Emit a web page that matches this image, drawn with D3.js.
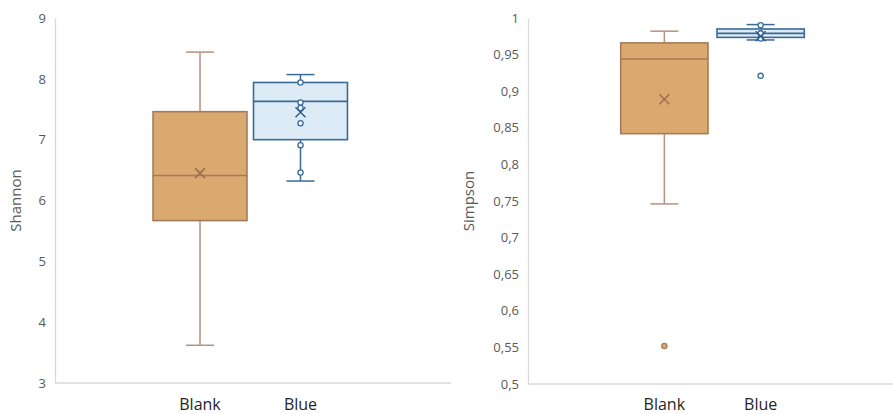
<!doctype html>
<html>
<head>
	<meta charset="utf-8">
	<script src="https://cdn.jsdelivr.net/npm/d3@7"></script>
	<style>
		body { margin: 0; background: #fff; }
		svg text { font-family: "Open Sans", "Noto Sans", sans-serif; }
		.tick text { fill: #595959; font-size: 13px; }
		.cat { fill: #262626; font-size: 16px; }
		.ytitle { fill: #595959; font-size: 15px; }
	</style>
</head>
<body>
<script>
	// categories
	var categories = ["Blank", "Blue"];

	// Shannon box stats
	var shannonMin = [3.62, 6.32];
	var shannonQ1 = [5.67, 7.00];
	var shannonMedian = [6.41, 7.63];
	var shannonQ3 = [7.46, 7.94];
	var shannonMax = [8.44, 8.07];
	var shannonMean = [6.45, 7.45];
	var shannonPoints = [[], [7.94, 7.61, 7.52, 7.27, 6.91, 6.46]];
	var shannonOutliers = [[], []];
	var shannonTicks = [3, 4, 5, 6, 7, 8, 9];

	// Simpson box stats
	var simpsonMin = [0.746, 0.970];
	var simpsonQ1 = [0.842, 0.9735];
	var simpsonMedian = [0.944, 0.979];
	var simpsonQ3 = [0.966, 0.985];
	var simpsonMax = [0.982, 0.991];
	var simpsonMean = [0.889, 0.975];
	var simpsonPoints = [[], [0.990, 0.979, 0.972]];
	var simpsonOutliers = [[0.552], [0.921]];
	var simpsonTicks = [0.5, 0.55, 0.6, 0.65, 0.7, 0.75, 0.8, 0.85, 0.9, 0.95, 1];

	var fills = ["#D9A96F", "#DDEBF7"];
	var strokes = ["#A67B5B", "#3A6A98"];
	var whiskerCol = ["#B5917F", "#3A6A98"];
	var meanCol = ["#9C6E52", "#2F5F8F"];

	var comma = d3.formatLocale({decimal: ",", thousands: ".", grouping: [3], currency: ["", ""]}).format("~g");

	var svg = d3.select("body").append("svg")
		.attr("width", 893)
		.attr("height", 414);

	function drawChart(cfg) {
		var g = svg.append("g");

		var yScale = d3.scaleLinear().domain(cfg.domain).range([cfg.bottom, cfg.top]);
		var xScale = d3.scaleBand().domain(categories).range(cfg.band).padding(cfg.pad);

		// bottom axis line
		g.append("line")
			.attr("x1", cfg.axisX).attr("x2", cfg.right)
			.attr("y1", cfg.bottom).attr("y2", cfg.bottom)
			.style("stroke", "#D9D9D9").style("stroke-width", 1.3);

		// y axis
		var yAxis = g.append("g")
			.attr("transform", "translate(" + cfg.axisX + ",0)")
			.call(d3.axisLeft(yScale).tickValues(cfg.ticks).tickSize(0).tickPadding(9).tickFormat(comma));
		yAxis.select(".domain").style("stroke", "#D9D9D9").style("stroke-width", 1.3);

		g.append("text")
			.attr("class", "ytitle")
			.attr("transform", "translate(" + cfg.titleX + "," + (cfg.top + cfg.bottom) / 2 + ") rotate(-90)")
			.attr("text-anchor", "middle")
			.attr("dy", "0.35em")
			.text(cfg.title);

		// category labels
		g.selectAll(".cat").data(categories).enter().append("text")
			.attr("class", "cat")
			.attr("x", d => xScale(d) + xScale.bandwidth() / 2)
			.attr("y", 410)
			.attr("text-anchor", "middle")
			.text(d => d);

		categories.forEach(function(c, i) {
			var x0 = xScale(c), bw = xScale.bandwidth(), cx = x0 + bw / 2;
			var cap = 14;

			// whiskers
			g.append("line").attr("x1", cx).attr("x2", cx)
				.attr("y1", yScale(cfg.q3[i])).attr("y2", yScale(cfg.max[i]))
				.style("stroke", whiskerCol[i]).style("stroke-width", 1.5);
			g.append("line").attr("x1", cx).attr("x2", cx)
				.attr("y1", yScale(cfg.q1[i])).attr("y2", yScale(cfg.min[i]))
				.style("stroke", whiskerCol[i]).style("stroke-width", 1.5);
			g.append("line").attr("x1", cx - cap).attr("x2", cx + cap)
				.attr("y1", yScale(cfg.max[i])).attr("y2", yScale(cfg.max[i]))
				.style("stroke", whiskerCol[i]).style("stroke-width", 1.5);
			g.append("line").attr("x1", cx - cap).attr("x2", cx + cap)
				.attr("y1", yScale(cfg.min[i])).attr("y2", yScale(cfg.min[i]))
				.style("stroke", whiskerCol[i]).style("stroke-width", 1.5);

			// box
			g.append("rect")
				.attr("x", x0).attr("width", bw)
				.attr("y", yScale(cfg.q3[i]))
				.attr("height", yScale(cfg.q1[i]) - yScale(cfg.q3[i]))
				.style("fill", fills[i]).style("stroke", strokes[i]).style("stroke-width", 1.6);

			// median
			g.append("line").attr("x1", x0).attr("x2", x0 + bw)
				.attr("y1", yScale(cfg.median[i])).attr("y2", yScale(cfg.median[i]))
				.style("stroke", strokes[i]).style("stroke-width", 1.6);

			// inner points
			g.selectAll(null).data(cfg.points[i]).enter().append("circle")
				.attr("cx", cx).attr("cy", d => yScale(d)).attr("r", 2.6)
				.style("fill", "#fff").style("stroke", strokes[i]).style("stroke-width", 1.3);

			// mean marker
			var my = yScale(cfg.mean[i]), s = 5;
			g.append("path")
				.attr("d", "M" + (cx - s) + "," + (my - s) + "L" + (cx + s) + "," + (my + s) +
					"M" + (cx + s) + "," + (my - s) + "L" + (cx - s) + "," + (my + s))
				.style("stroke", meanCol[i]).style("stroke-width", 1.5);

			// outliers
			g.selectAll(null).data(cfg.outliers[i]).enter().append("circle")
				.attr("cx", cx).attr("cy", d => yScale(d)).attr("r", 2.6)
				.style("fill", i == 0 ? fills[i] : "#fff").style("stroke", strokes[i]).style("stroke-width", 1.3);
		});
	}

	drawChart({
		domain: [3, 9], ticks: shannonTicks, top: 18, bottom: 383,
		axisX: 55, right: 451, band: [146.5, 354], pad: 0.065, titleX: 16, title: "Shannon",
		min: shannonMin, q1: shannonQ1, median: shannonMedian, q3: shannonQ3, max: shannonMax,
		mean: shannonMean, points: shannonPoints, outliers: shannonOutliers
	});

	drawChart({
		domain: [0.5, 1], ticks: simpsonTicks, top: 18, bottom: 384,
		axisX: 528, right: 893, band: [611.7, 813.3], pad: 0.0935, titleX: 469, title: "Simpson",
		min: simpsonMin, q1: simpsonQ1, median: simpsonMedian, q3: simpsonQ3, max: simpsonMax,
		mean: simpsonMean, points: simpsonPoints, outliers: simpsonOutliers
	});
</script>
</body>
</html>
